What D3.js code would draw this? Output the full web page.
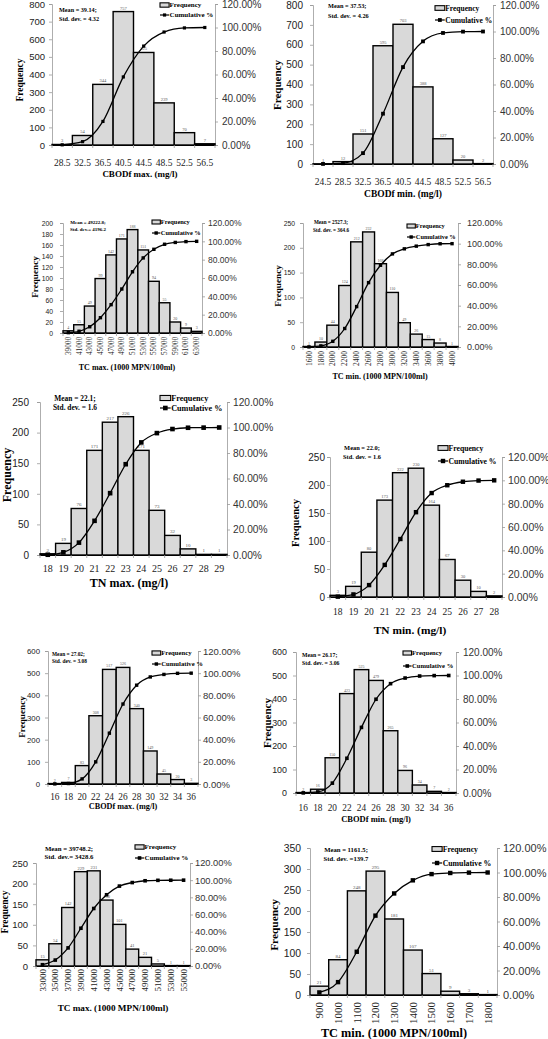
<!DOCTYPE html>
<html><head><meta charset="utf-8">
<script src="https://cdn.jsdelivr.net/npm/d3@7"></script>
<style>
html,body{margin:0;padding:0;background:#fff;}
svg{display:block;font-family:"Liberation Serif","Times New Roman",serif;}
</style></head>
<body><svg id="c" width="548" height="1039"></svg>
<script>
// ---------- DATA ----------
const pctTicks = [0, 20, 40, 60, 80, 100, 120];

const p1Cats = ["28.5","32.5","36.5","40.5","44.5","48.5","52.5","56.5"];
const p1Freq = [3, 54, 344, 757, 525, 239, 70, 7];
const p1Cum  = [0.15, 2.85, 20.06, 57.93, 84.19, 96.15, 99.65, 100];
const p1YTicks = [0,100,200,300,400,500,600,700,800];

const p2Cats = ["24.5","28.5","32.5","36.5","40.5","44.5","48.5","52.5","56.5"];
const p2Freq = [1, 12, 151, 595, 703, 388, 127, 20, 2];
const p2Cum  = [0.05, 0.65, 8.2, 37.97, 73.14, 92.55, 98.9, 99.9, 100];
const p2YTicks = [0,100,200,300,400,500,600,700,800];

const p3Cats = ["39000","41000","43000","45000","47000","49000","51000","53000","55000","57000","59000","61000","63000"];
const p3Freq = [4, 15, 49, 99, 142, 171, 188, 151, 94, 55, 20, 9, 3];
const p3Cum  = [0.4, 1.9, 6.8, 16.7, 30.9, 48.0, 66.8, 81.9, 91.3, 96.8, 98.8, 99.7, 100];
const p3YTicks = [0,20,40,60,80,100,120,140,160,180,200];

const p4Cats = ["1600","1800","2000","2200","2400","2600","2800","3000","3200","3400","3600","3800","4000"];
const p4Freq = [1, 10, 44, 124, 212, 232, 168, 110, 49, 26, 15, 8, 1];
const p4Cum  = [0.1, 1.1, 5.5, 17.9, 39.1, 62.3, 79.1, 90.1, 95.0, 97.6, 99.1, 99.9, 100];
const p4YTicks = [0,50,100,150,200,250];

const p5Cats = ["18","19","20","21","22","23","24","25","26","27","28","29"];
const p5Freq = [2, 19, 76, 171, 217, 226, 171, 73, 32, 10, 1, 1];
const p5Cum  = [0.2, 2.1, 9.7, 26.8, 48.5, 71.2, 88.3, 95.6, 98.8, 99.8, 99.9, 100];
const p5YTicks = [0,50,100,150,200,250];

const p6Cats = ["18","19","20","21","22","23","24","25","26","27","28"];
const p6Freq = [3, 19, 80, 173, 222, 230, 164, 67, 30, 10, 2];
const p6Cum  = [0.3, 2.2, 10.2, 27.5, 49.7, 72.7, 89.1, 95.8, 98.8, 99.8, 100];
const p6YTicks = [0,50,100,150,200,250];

const p7Cats = ["16","18","20","22","24","26","28","30","32","34","36"];
const p7Freq = [2, 7, 83, 308, 517, 526, 340, 149, 45, 20, 3];
const p7Cum  = [0.1, 0.45, 4.6, 20.0, 45.85, 72.15, 89.15, 96.6, 98.85, 99.85, 100];
const p7YTicks = [0,100,200,300,400,500,600];

const p8Cats = ["16","18","20","22","24","26","28","30","32","34","36"];
const p8Freq = [2, 16, 150, 423, 525, 479, 265, 96, 34, 7, 2];
const p8Cum  = [0.1, 0.9, 8.4, 29.56, 55.83, 79.79, 93.05, 97.85, 99.55, 99.9, 100];
const p8YTicks = [0,100,200,300,400,500,600];

const p9Cats = ["33000","35000","37000","39000","41000","43000","45000","47000","49000","51000","53000","55000"];
const p9Freq = [15, 54, 142, 229, 231, 160, 101, 41, 21, 5, 1, 1];
const p9Cum  = [1.5, 6.9, 21.1, 44.0, 67.0, 83.0, 93.1, 97.2, 99.3, 99.8, 99.9, 100];
const p9YTicks = [0,50,100,150,200,250];

const p10Cats = ["900","1000","1100","1200","1300","1400","1500","1600","1700","1800"];
const p10Freq = [21, 84, 248, 295, 181, 107, 51, 9, 3, 1];
const p10Cum  = [2.1, 10.5, 35.3, 64.8, 82.9, 93.6, 98.7, 99.6, 99.9, 100];
const p10YTicks = [0,50,100,150,200,250,300,350];

const titles = ["CBODf max. (mg/l)","CBODf min. (mg/l)","TC max. (1000 MPN/100ml)","TC min. (1000 MPN/100ml)",
  "TN max. (mg/l)","TN min. (mg/l)","CBODf max. (mg/l)","CBODf min. (mg/l)","TC max. (1000 MPN/100ml)","TC min. (1000 MPN/100ml)"];
const meanTexts = [
  ["Mean = 39.14;","Std. dev. = 4.32"],["Mean = 37.53;","Std. dev. = 4.26"],
  ["Mean = 49222.8;","Std. dev.= 4196.2"],["Mean = 2527.3;","Std. dev. = 364.6"],
  ["Mean = 22.1;","Std. dev. = 1.6"],["Mean = 22.0;","Std. dev. = 1.6"],
  ["Mean = 27.02;","Std. dev. = 3.08"],["Mean = 26.17;","Std. dev. = 3.06"],
  ["Mean = 39748.2;","Std. dev.= 3428.6"],["Mean = 1161.5;","Std. dev. =139.7"]];

// ---------- LAYOUT ----------
const layouts = [
 {x0:52,x1:215,yTop:4,yBot:145,lEdge:45,rStart:222,xtY:166,rot:false,tX:140,tY:177,yX:20,yY:80,
  mX:59,mAnchor:"start",mY:[12,21],lgX:160,lgY:[5,15],fs:{l:9.5,r:10,x:9.5,t:9,y:9.5,m:6.2,lg:7,d:4.5},mk:3.2},
 {x0:313,x1:493,yTop:5,yBot:164,lEdge:303,rStart:500,xtY:185,rot:false,tX:403,tY:197,yX:277,yY:85,
  mX:328,mAnchor:"start",mY:[8,18],lgX:435,lgY:[8,20],fs:{l:10,r:10,x:9.5,t:9.5,y:11,m:6.3,lg:7.5,d:4.5},mk:3.8},
 {x0:63,x1:202,yTop:223,yBot:333,lEdge:53,rStart:208,xtY:337,rot:true,tX:127,tY:370,yX:35,yY:277,
  mX:88,mAnchor:"middle",mY:[224,231],lgX:152,lgY:[222,233],fs:{l:6.8,r:8.5,x:7.2,t:8,y:9.2,m:5,lg:6.4,d:4},mk:3.4},
 {x0:303,x1:458,yTop:223,yBot:347,lEdge:295,rStart:467,xtY:351,rot:true,tX:380,tY:379,yX:278,yY:286,
  mX:331,mAnchor:"middle",mY:[224,232],lgX:407,lgY:[226,237],fs:{l:6.8,r:9,x:7.5,t:8,y:9.2,m:5.2,lg:6.4,d:4},mk:3.4},
 {x0:40,x1:227,yTop:402,yBot:555,lEdge:29,rStart:233,xtY:572,rot:false,tX:129,tY:587,yX:7,yY:475,
  mX:75,mAnchor:"middle",mY:[400.5,409.5],lgX:160,lgY:[398,408],fs:{l:10,r:10.2,x:10,t:12,y:12,m:7.4,lg:8.2,d:5},mk:4.6},
 {x0:330,x1:502,yTop:457,yBot:597,lEdge:325,rStart:508,xtY:615,rot:false,tX:410,tY:634,yX:295,yY:523,
  mX:362,mAnchor:"middle",mY:[450,459],lgX:438,lgY:[448,461],fs:{l:10,r:10.5,x:9.5,t:11.4,y:10.6,m:6.4,lg:7.7,d:4.5},mk:4.4},
 {x0:48,x1:198,yTop:651,yBot:784,lEdge:40,rStart:203,xtY:800,rot:false,tX:123,tY:809,yX:22,yY:717,
  mX:52,mAnchor:"start",mY:[656,663],lgX:152,lgY:[653,664],fs:{l:7.8,r:9.5,x:9.3,t:8.2,y:9.2,m:5.4,lg:6.7,d:4},mk:3.4},
 {x0:296,x1:456,yTop:652,yBot:793,lEdge:287,rStart:463,xtY:811,rot:false,tX:376,tY:822,yX:267,yY:723,
  mX:302,mAnchor:"start",mY:[657,665],lgX:403,lgY:[653,666],fs:{l:8.9,r:10,x:9.3,t:8.5,y:11,m:5.8,lg:6.6,d:4},mk:3.6},
 {x0:36,x1:190,yTop:863,yBot:966,lEdge:28,rStart:195,xtY:969,rot:true,tX:113,tY:1011,yX:5,yY:912,
  mX:69,mAnchor:"middle",mY:[851,859],lgX:135,lgY:[847,858],fs:{l:9.5,r:9.3,x:9,t:9.2,y:9.5,m:6.8,lg:7,d:4.5},mk:3.6},
 {x0:310,x1:497,yTop:848,yBot:995,lEdge:301,rStart:503,xtY:1002,rot:true,tX:394,tY:1037,yX:274,yY:925,
  mX:346,mAnchor:"middle",mY:[852,861],lgX:432,lgY:[849,863],fs:{l:10.4,r:11,x:11,t:12.3,y:11.4,m:6.7,lg:7.8,d:5},mk:4.4}
];

const panels = [
 [p1Cats,p1Freq,p1Cum,p1YTicks],[p2Cats,p2Freq,p2Cum,p2YTicks],[p3Cats,p3Freq,p3Cum,p3YTicks],
 [p4Cats,p4Freq,p4Cum,p4YTicks],[p5Cats,p5Freq,p5Cum,p5YTicks],[p6Cats,p6Freq,p6Cum,p6YTicks],
 [p7Cats,p7Freq,p7Cum,p7YTicks],[p8Cats,p8Freq,p8Cum,p8YTicks],[p9Cats,p9Freq,p9Cum,p9YTicks],
 [p10Cats,p10Freq,p10Cum,p10YTicks]];

const svg = d3.select("#c");

function drawPanel(i){
  const [cats,freq,cum,yt] = panels[i];
  const L = layouts[i], fs = L.fs;
  const g = svg.append("g");
  const x = d3.scaleBand().domain(cats).range([L.x0,L.x1]).padding(0);
  const y = d3.scaleLinear().domain([0,d3.max(yt)]).range([L.yBot,L.yTop]);
  const y2 = d3.scaleLinear().domain([0,120]).range([L.yBot,L.yTop]);

  // left axis
  const la = g.append("g").attr("transform",`translate(${L.x0},0)`)
    .call(d3.axisLeft(y).tickValues(yt).tickSize(3).tickPadding(L.x0-L.lEdge-3).tickFormat(d3.format("d")));
  la.select(".domain").attr("stroke","#999").attr("stroke-width",0.8);
  la.selectAll(".tick line").attr("stroke","#999").attr("stroke-width",0.8);
  la.selectAll(".tick text").attr("font-size",fs.l).attr("fill","#222").attr("font-family",null);

  // right axis
  const ra = g.append("g").attr("transform",`translate(${L.x1},0)`)
    .call(d3.axisRight(y2).tickValues(pctTicks).tickSize(3).tickPadding(L.rStart-L.x1-3).tickFormat(d=>d.toFixed(2)+"%"));
  ra.select(".domain").attr("stroke","#999").attr("stroke-width",0.8);
  ra.selectAll(".tick line").attr("stroke","#999").attr("stroke-width",0.8);
  ra.selectAll(".tick text").attr("font-size",fs.r).attr("fill","#333").attr("font-family",null);

  // bars
  g.selectAll("rect.bar").data(freq).join("rect")
    .attr("x",(d,j)=>x(cats[j])).attr("width",x.bandwidth())
    .attr("y",d=>y(d)).attr("height",d=>L.yBot-y(d))
    .attr("fill","#d9d9d9").attr("stroke","#000").attr("stroke-width",1.4);

  // bottom axis
  const ba = g.append("g").attr("transform",`translate(0,${L.yBot})`)
    .call(d3.axisBottom(x).tickSize(0).tickFormat(""));
  ba.select(".domain").attr("stroke","#000").attr("stroke-width",1.2);
  ba.selectAll(".tick").remove();
  g.selectAll("line.xt").data(d3.range(cats.length+1)).join("line")
    .attr("x1",j=>L.x0+j*x.bandwidth()).attr("x2",j=>L.x0+j*x.bandwidth())
    .attr("y1",L.yBot).attr("y2",L.yBot+3).attr("stroke","#999").attr("stroke-width",0.8);

  // x tick labels
  const xl = g.selectAll("text.xl").data(cats).join("text")
    .attr("font-size",fs.x).attr("fill","#222").text(d=>d);
  if(L.rot){
    xl.attr("text-anchor","end").attr("dy","0.35em")
      .attr("transform",d=>`translate(${x(d)+x.bandwidth()/2},${L.xtY}) rotate(-90)`);
  } else {
    xl.attr("text-anchor","middle").attr("x",d=>x(d)+x.bandwidth()/2).attr("y",L.xtY);
  }

  // data labels
  g.selectAll("text.dl").data(freq).join("text")
    .attr("x",(d,j)=>x(cats[j])+x.bandwidth()/2).attr("y",d=>y(d)-2)
    .attr("text-anchor","middle").attr("font-size",fs.d).attr("fill","#555").text(d=>d);

  // cumulative line
  const pts = cum.map((c,j)=>[x(cats[j])+x.bandwidth()/2, y2(c)]);
  g.append("path").attr("d",d3.line().curve(d3.curveMonotoneX)(pts))
    .attr("fill","none").attr("stroke","#000").attr("stroke-width",1.3);
  g.selectAll("rect.mk").data(pts).join("rect")
    .attr("x",p=>p[0]-L.mk/2).attr("y",p=>p[1]-L.mk/2).attr("width",L.mk).attr("height",L.mk).attr("fill","#000");

  // titles
  g.append("text").attr("x",L.tX).attr("y",L.tY).attr("text-anchor","middle")
    .attr("font-size",fs.t).attr("font-weight","bold").text(titles[i]);
  g.append("text").attr("transform",`translate(${L.yX},${L.yY}) rotate(-90)`).attr("dy","0.35em")
    .attr("text-anchor","middle").attr("font-size",fs.y).attr("font-weight","bold").text("Frequency");

  // mean text
  meanTexts[i].forEach((t,k)=>{
    g.append("text").attr("x",L.mX).attr("y",L.mY[k]).attr("text-anchor",L.mAnchor)
      .attr("font-size",fs.m).attr("font-weight","bold").text(t);
  });

  // legend
  const bw = fs.lg*1.3, bh = fs.lg*0.62;
  g.append("rect").attr("x",L.lgX).attr("y",L.lgY[0]-bh/2).attr("width",bw).attr("height",bh)
    .attr("fill","#d9d9d9").attr("stroke","#000").attr("stroke-width",1.1);
  g.append("text").attr("x",L.lgX+bw+0.5).attr("y",L.lgY[0]).attr("dy","0.35em")
    .attr("font-size",fs.lg).attr("font-weight","bold").text("Frequency");
  g.append("line").attr("x1",L.lgX).attr("x2",L.lgX+bw).attr("y1",L.lgY[1]).attr("y2",L.lgY[1])
    .attr("stroke","#000").attr("stroke-width",1.2);
  g.append("rect").attr("x",L.lgX+bw/2-L.mk/2).attr("y",L.lgY[1]-L.mk/2).attr("width",L.mk).attr("height",L.mk).attr("fill","#000");
  g.append("text").attr("x",L.lgX+bw+0.5).attr("y",L.lgY[1]).attr("dy","0.35em")
    .attr("font-size",fs.lg).attr("font-weight","bold").text("Cumulative %");
}

for(let i=0;i<panels.length;i++) drawPanel(i);
</script></body></html>
